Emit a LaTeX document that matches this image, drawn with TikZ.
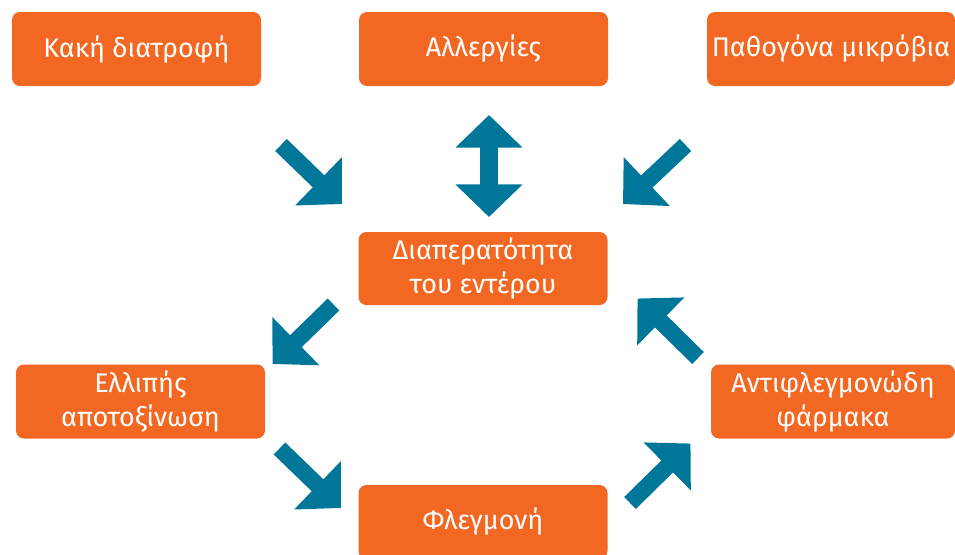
\documentclass[tikz,border=0pt]{standalone}
\usepackage{fontspec}
\setmainfont{Fira Sans}
\usetikzlibrary{arrows.meta}
\definecolor{boxorange}{RGB}{242,104,35}
\definecolor{arrowteal}{RGB}{0,118,153}
\tikzset{
  box/.style={fill=boxorange, rounded corners=6pt, minimum width=186.75pt, minimum height=55.5pt,
    inner sep=0pt, text=white, align=center, font=\fontsize{20.2}{25.5}\selectfont},
  bigarrow/.style={draw=arrowteal, line width=12.5pt, line cap=butt,
    -{Triangle[length=24.5pt,width=49pt]}, fill=arrowteal},
  dblarrow/.style={draw=arrowteal, line width=13pt, line cap=butt,
    {Triangle[length=24.5pt,width=49pt]}-{Triangle[length=24.5pt,width=49pt]}}
}
\begin{document}
\begin{tikzpicture}[x=0.75pt,y=-0.75pt]
\useasboundingbox (0,0) rectangle (955,554);
\node[box] (kaki) at (136.5,49) {Κακή διατροφή};
\node[box] (allerg) at (483.5,49) {Αλλεργίες};
\node[box, minimum width=186pt] (patho) at (831,49) {Παθογόνα μικρόβια};
\node[box, minimum height=54.75pt] (diap) at (483,268.5) {Διαπερατότητα\\του εντέρου};
\node[box] (ellip) at (140.5,401.5) {Ελλιπής\\αποτοξίνωση};
\node[box, minimum width=183pt] (anti) at (833,401.5) {Αντιφλεγμονώδη\\φάρμακα};
\node[box] (flegm) at (483,522) {Φλεγμονή};
% arrow end points
\coordinate (a1s) at (281,145);   \coordinate (a1e) at (342,204);
\coordinate (a3s) at (685.5,145); \coordinate (a3e) at (623,204);
\coordinate (a4s) at (333.5,304.5); \coordinate (a4e) at (272.5,364);
\coordinate (a5s) at (279.5,448.5); \coordinate (a5e) at (341,508);
\coordinate (a6s) at (630,503);   \coordinate (a6e) at (690.5,443.5);
\coordinate (a7s) at (698,358);   \coordinate (a7e) at (637.5,298.5);
\coordinate (d1) at (489,115);    \coordinate (d2) at (489,217);
\draw[bigarrow] (a1s) -- (a1e);
\draw[bigarrow] (a3s) -- (a3e);
\draw[bigarrow] (a4s) -- (a4e);
\draw[bigarrow] (a5s) -- (a5e);
\draw[bigarrow] (a6s) -- (a6e);
\draw[bigarrow] (a7s) -- (a7e);
\draw[dblarrow, fill=arrowteal] (d1) -- (d2);
\end{tikzpicture}
\end{document}
